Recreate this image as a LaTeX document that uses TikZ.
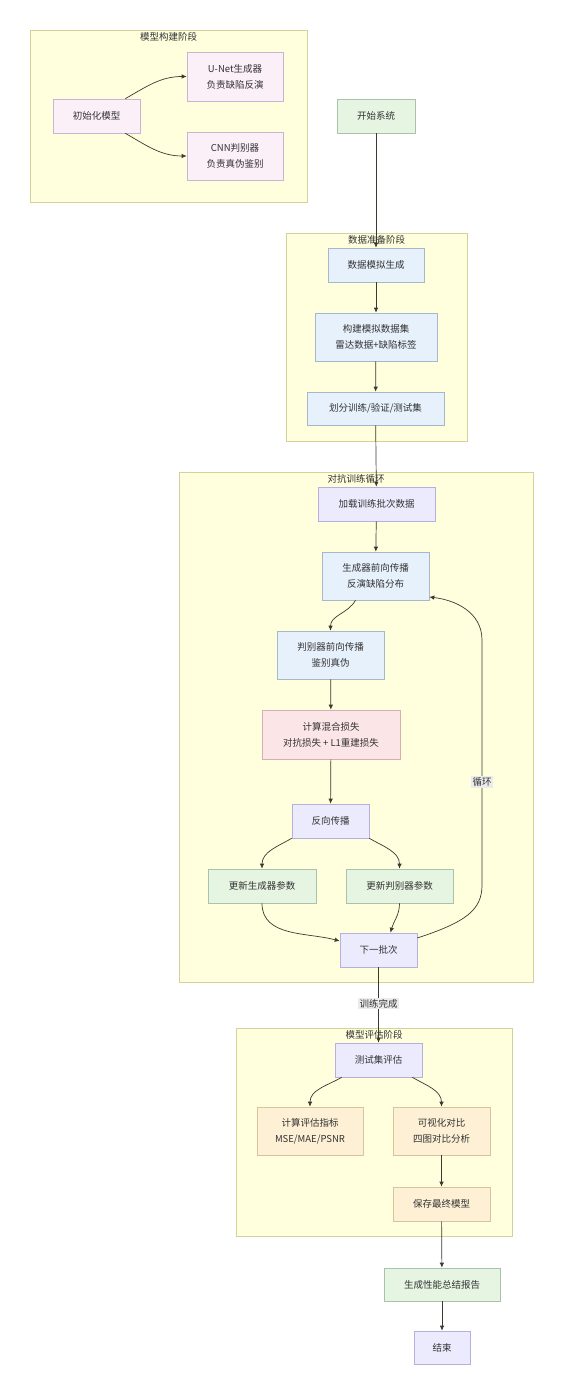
\documentclass[tikz,border=0pt]{standalone}
\usepackage{fontspec}
\setmainfont{Noto Sans CJK SC}
\usepackage{tikz}
\usetikzlibrary{positioning,arrows.meta}

\definecolor{stagefill}{HTML}{FFFFDE}
\definecolor{stageline}{HTML}{D2D29A}
\definecolor{initfill}{HTML}{FBEFF8}
\definecolor{initline}{HTML}{C9B4D2}
\definecolor{greenfill}{HTML}{E6F4E2}
\definecolor{greenline}{HTML}{A9C2AB}
\definecolor{bluefill}{HTML}{E7F1FC}
\definecolor{blueline}{HTML}{A8B8CC}
\definecolor{lossfill}{HTML}{FCE5E7}
\definecolor{lossline}{HTML}{D6AFB4}
\definecolor{evalfill}{HTML}{FDF0D5}
\definecolor{evalline}{HTML}{D5C49E}
\definecolor{stepfill}{HTML}{ECEBFD}
\definecolor{stepline}{HTML}{B7B0DE}
\definecolor{flowcol}{HTML}{3A3A30}

\tikzset{
  flowbox/.style={draw, rectangle, align=center, inner sep=2pt, line width=0.6pt,
                  text=black!80, font=\fontsize{9.5}{16}\selectfont},
  initbox/.style={flowbox, fill=initfill, draw=initline},
  greenbox/.style={flowbox, fill=greenfill, draw=greenline},
  bluebox/.style={flowbox, fill=bluefill, draw=blueline},
  lossbox/.style={flowbox, fill=lossfill, draw=lossline},
  evalbox/.style={flowbox, fill=evalfill, draw=evalline},
  stepbox/.style={flowbox, fill=stepfill, draw=stepline},
  stage/.style={draw=stageline, fill=stagefill, line width=0.6pt},
  stagetitle/.style={anchor=north, inner sep=1pt, text=black!80,
                     font=\fontsize{9.5}{12}\selectfont},
  flow/.style={draw=flowcol, line width=0.7pt, -{Latex[length=5pt,width=4.5pt]}},
  edgelabel/.style={fill=black!8, inner sep=1.5pt, text=black!80,
                    font=\fontsize{9.5}{12}\selectfont},
}

\begin{document}
\begin{tikzpicture}[x=1pt, y=-1pt]
  \useasboundingbox[fill=white] (0,0) rectangle (564,1396);

  % stage frames
  \draw[stage] (30,30) rectangle (307,202);
  \node[stagetitle] (buildtitle) at (168.5,31) {模型构建阶段};
  \draw[stage] (286,233) rectangle (467,441);
  \node[stagetitle] (datatitle) at (376.5,234) {数据准备阶段};
  \draw[stage] (179,472) rectangle (533,982);
  \node[stagetitle] (traintitle) at (356,473) {对抗训练循环};
  \draw[stage] (236,1028) rectangle (512,1236);
  \node[stagetitle] (evaltitle) at (374,1029) {模型评估阶段};

  % model building
  \node[initbox, minimum width=87pt, minimum height=34pt] (init) at (96.5,116) {初始化模型};
  \node[initbox, minimum width=96pt, minimum height=49pt] (unet) at (235,76.5) {U-Net生成器\\负责缺陷反演};
  \node[initbox, minimum width=96pt, minimum height=48pt] (cnn) at (235,156) {CNN判别器\\负责真伪鉴别};

  \node[greenbox, minimum width=78pt, minimum height=34pt] (start) at (376,116) {开始系统};

  % data preparation
  \node[bluebox, minimum width=96pt, minimum height=34pt] (datasim) at (376,265) {数据模拟生成};
  \node[bluebox, minimum width=122pt, minimum height=48pt] (dataset) at (376,337) {构建模拟数据集\\雷达数据+缺陷标签};
  \node[bluebox, minimum width=137pt, minimum height=33pt] (split) at (375.5,408.5) {划分训练/验证/测试集};

  % training loop
  \node[stepbox, minimum width=117pt, minimum height=34pt] (load) at (376.5,504) {加载训练批次数据};
  \node[bluebox, minimum width=107pt, minimum height=48pt] (genfwd) at (375.5,576) {生成器前向传播\\反演缺陷分布};
  \node[bluebox, minimum width=107pt, minimum height=48pt] (disfwd) at (330.5,655) {判别器前向传播\\鉴别真伪};
  \node[lossbox, minimum width=138pt, minimum height=49pt] (loss) at (331,734.5) {计算混合损失\\对抗损失 + L1重建损失};
  \node[stepbox, minimum width=77pt, minimum height=34pt] (backprop) at (330.5,821) {反向传播};
  \node[greenbox, minimum width=108pt, minimum height=34pt] (updgen) at (262,886) {更新生成器参数};
  \node[greenbox, minimum width=107pt, minimum height=34pt] (upddis) at (399.5,886) {更新判别器参数};
  \node[stepbox, minimum width=77pt, minimum height=34pt] (next) at (378.5,950) {下一批次};

  % evaluation
  \node[stepbox, minimum width=87pt, minimum height=34pt] (test) at (378.5,1060) {测试集评估};
  \node[evalbox, minimum width=106pt, minimum height=48pt] (metrics) at (310,1131) {计算评估指标\\MSE/MAE/PSNR};
  \node[evalbox, minimum width=97pt, minimum height=48pt] (vis) at (441.5,1131) {可视化对比\\四图对比分析};
  \node[evalbox, minimum width=97pt, minimum height=34pt] (save) at (441.5,1204) {保存最终模型};

  \node[greenbox, minimum width=116pt, minimum height=33pt] (report) at (442,1284.5) {生成性能总结报告};
  \node[stepbox, minimum width=56pt, minimum height=33pt] (finish) at (442,1347.5) {结束};

  % connectors
  \draw[flow] ([xshift=-15pt]init.north east) to[out=30,in=180] (unet.west);
  \draw[flow] ([xshift=-15pt]init.south east) to[out=-30,in=180] (cnn.west);

  \draw[flow] (start) -- (datasim);
  \draw[flow] (datasim) -- (dataset);
  \draw[flow] (dataset) -- (split);
  \draw[flow] (split) -- (load);
  \draw[flow] (load) -- (genfwd);
  \draw[flow] ([xshift=-20pt]genfwd.south) to[out=-120,in=90] (disfwd.north);
  \draw[flow] (disfwd) -- (loss);
  \draw[flow] (loss) -- (backprop);
  \draw[flow] (backprop.south west) to[out=-150,in=90] (updgen.north);
  \draw[flow] (backprop.south east) to[out=-30,in=90] (upddis.north);
  \draw[flow] (updgen.south) to[out=-90,in=165] ([yshift=9pt]next.west);
  \draw[flow] (upddis.south) to[out=-90,in=75] ([xshift=12pt]next.north);
  \draw[flow] ([yshift=12pt]next.east) .. controls (466,922) and (482,910) .. (482,885)
    -- node[edgelabel, pos=0.42] (looplabel) {循环} (482,640)
    .. controls (482,612) and (455,600) .. ([yshift=-21pt]genfwd.east);
  \draw[flow] (next) -- node[edgelabel, pos=0.48] (donelabel) {训练完成} (test);

  \draw[flow] ([xshift=7pt]test.south west) to[out=-150,in=90] (metrics.north);
  \draw[flow] ([xshift=-10pt]test.south east) to[out=-30,in=90] (vis.north);
  \draw[flow] (vis) -- (save);
  \draw[flow] (save) -- (report);
  \draw[flow] (report) -- (finish);
\end{tikzpicture}
\end{document}
